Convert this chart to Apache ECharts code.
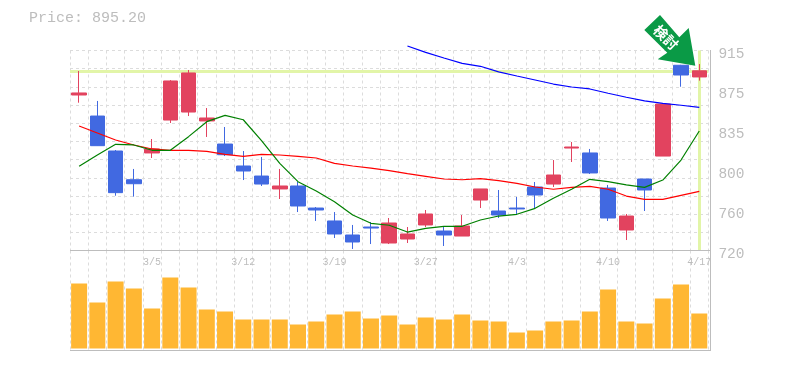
<!DOCTYPE html>
<html><head><meta charset="utf-8">
<style>html,body{margin:0;padding:0;background:#fff}#c{width:785px;height:370px}</style>
<script src="https://cdn.jsdelivr.net/npm/echarts@6/dist/echarts.min.js"></script>
</head><body><div id="c"></div>
<script>
const dates=['2/27','2/28','3/1','3/2','3/5','3/6','3/7','3/8','3/9','3/12','3/13','3/14','3/15','3/16','3/19','3/20','3/22','3/23','3/26','3/27','3/28','3/29','3/30','4/2','4/3','4/4','4/5','4/6','4/9','4/10','4/11','4/12','4/13','4/16','4/17'];
const xTickLabels=['3/5','3/12','3/19','3/27','4/3','4/10','4/17'];
// [open, close, low, high]
const candles=[
[871.6,873.6,864.1,895],[851.1,822.2,822,865.8],[817,776.4,773.4,818],[789,785.1,772.5,799.5],[815.1,819,810.2,828.7],
[847.2,885.3,844.3,886.2],[855,893.1,851.1,896],[846.3,849.2,830.7,858.9],[823.8,813.4,812.1,840.4],[802.4,797.5,788.7,817],
[792.6,784.8,782.9,811.2],[780,782.9,770.2,799.5],[782.9,763.4,757.5,786.8],[761.4,759.5,748.8,762.4],[748.8,736.1,732.2,757.5],
[735.1,728.3,721.5,744.9],[742.9,741.9,726.3,747.8],[727.3,746.8,726.3,751.7],[731.2,736.1,727.3,742.9],[744.9,755.6,742.9,759.5],
[739,735.1,724.4,743.9],[734.1,743.9,734.1,754.6],[769.2,780,761.4,780],[758.5,754.6,751.7,779],[761.4,760.5,755.6,772.2],
[781.9,774.1,760.5,786.8],[784.8,793.6,781.9,808.2],[819.9,820.9,806.3,825.8],[815.1,795.6,794.6,819],[780.9,751.7,748.8,783.9],
[740,753.6,730.2,755.6],[789.7,779,758.5,789.7],[812.1,862.8,812.1,862.8],[900.6,891.1,879.7,901],[889.2,895.2,885.6,901.8]];
const maRed=[841.4,834.6,827.7,822.9,819,817.7,817.7,816.7,813.8,811.8,813.8,813.1,811.8,810.2,805,802.4,800.4,797.8,794.9,792.3,789.7,789,790,788.1,785.5,781.9,779.7,781.6,782.6,779.7,773.1,769.9,769.9,773.8,777.7];
const maGreen=[802.1,813.1,823.5,822.9,817.7,817.7,831,845.6,851.8,847.5,827.1,805,787.1,778,767.6,754.6,746.5,744.6,738,741.6,743.6,743.6,749.7,753.6,755.3,761.1,770.9,779.7,789.4,787.1,783.9,781.6,788.7,808.2,836.5];
const maBlue=[null,null,null,null,null,null,null,null,null,null,null,null,null,null,null,null,null,null,919.4,913.2,907.7,902.5,899.6,894.2,890.1,886.2,882.3,879.4,877.5,873.3,869.4,865.8,863.5,861.6,859.6];
const volumes=[65,46,67,60,40,71,61,39,37,29,29,29,24,27,34,37,30,33,24,31,29,34,28,27,16,18,27,28,37,59,27,25,50,64,35];
const priceTicks=[720,759,798,837,876,915];
const gridLevels=[720,737.7,755.5,773.2,790.9,808.6,826.4,844.1,861.8,879.5,897.3,915];
const currentPrice=895.2;
const arrowLabel='検討';

const GRAY='#bdbdbd',DASH='#dcdcdc',MONO='"Liberation Mono",monospace';
const dashLine={show:true,lineStyle:{color:DASH,width:1,type:[3,3]}};
const frame=(x1,y1,x2,y2)=>({type:'line',silent:true,z:20,shape:{x1,y1,x2,y2},style:{stroke:GRAY,lineWidth:1}});
const chart=echarts.init(document.getElementById('c'),null,{renderer:'canvas'});
chart.setOption({
 animation:false,backgroundColor:'#fff',
 title:{text:'Price: '+currentPrice.toFixed(2),left:24,top:6,textStyle:{fontFamily:MONO,fontSize:15,fontWeight:'normal',color:GRAY}},
 grid:[{left:70,top:50.5,width:638.4,height:200},{left:70,top:250.5,width:638.4,height:100}],
 xAxis:[
  {type:'category',gridIndex:0,data:dates,boundaryGap:true,axisLine:{show:false},axisTick:{show:false},splitLine:Object.assign({interval:0},dashLine),
   axisLabel:{interval:(i,v)=>xTickLabels.includes(v),hideOverlap:false,margin:7,color:GRAY,fontFamily:MONO,fontSize:10}},
  {type:'category',gridIndex:1,data:dates,boundaryGap:true,axisLine:{show:false},axisTick:{show:false},axisLabel:{show:false},splitLine:Object.assign({interval:0},dashLine)}
 ],
 yAxis:[
  {type:'value',gridIndex:0,position:'right',min:720,max:915,scale:true,axisLine:{show:false},axisTick:{show:false},splitLine:{show:false},
   axisLabel:{customValues:priceTicks,margin:10,color:GRAY,fontFamily:MONO,fontSize:14.5,verticalAlign:'top',lineHeight:7,formatter:v=>String(Math.round(v/5)*5)}},
  {type:'value',gridIndex:0,position:'left',min:720,max:915,scale:true,axisLine:{show:false},axisTick:{show:false,customValues:gridLevels},axisLabel:{show:false},splitLine:dashLine},
  {type:'value',gridIndex:1,min:-2,max:98,show:false,splitLine:{show:false}}
 ],
 series:[
  {type:'line',xAxisIndex:0,yAxisIndex:0,data:[],z:1,silent:true,
   markLine:{z:1,silent:true,symbol:'none',label:{show:false},animation:false,lineStyle:{color:'#e2f5a8',width:3,type:'solid'},
    data:[{yAxis:currentPrice},{xAxis:dates[dates.length-1]}]}},
  {type:'candlestick',xAxisIndex:0,yAxisIndex:0,data:candles,barWidth:15,z:3,
   itemStyle:{color:'#e2435f',color0:'#4169e1',borderColor:'#e2435f',borderColor0:'#4169e1',borderWidth:1}},
  {type:'line',xAxisIndex:0,yAxisIndex:0,data:maRed,z:4,showSymbol:false,symbol:'none',lineStyle:{color:'#ff0000',width:1.2}},
  {type:'line',xAxisIndex:0,yAxisIndex:0,data:maGreen,z:4,showSymbol:false,symbol:'none',lineStyle:{color:'#008000',width:1.2}},
  {type:'line',xAxisIndex:0,yAxisIndex:0,data:maBlue,z:4,showSymbol:false,symbol:'none',clip:false,lineStyle:{color:'#0000ff',width:1.2}},
  {type:'bar',xAxisIndex:1,yAxisIndex:2,data:volumes,barWidth:16,itemStyle:{color:'#ffb733'}}
 ],
 graphic:[
  frame(70,250.5,710,250.5),frame(70,350.5,710,350.5),frame(710.5,50,710.5,351),
  {type:'polygon',z:30,silent:true,shape:{points:[[660,15],[644.3,30],[667.3,52.7],[657.7,59.3],[695.3,65.7],[688.7,28],[679.3,37.3]]},style:{fill:'#0a9a46'}},
  {type:'text',z:31,silent:true,x:666,y:37.5,rotation:-Math.PI/4,style:{text:arrowLabel,fill:'#fff',font:'bold 14px "Noto Sans CJK JP"',align:'center',verticalAlign:'middle'}}
 ]
});
</script></body></html>
